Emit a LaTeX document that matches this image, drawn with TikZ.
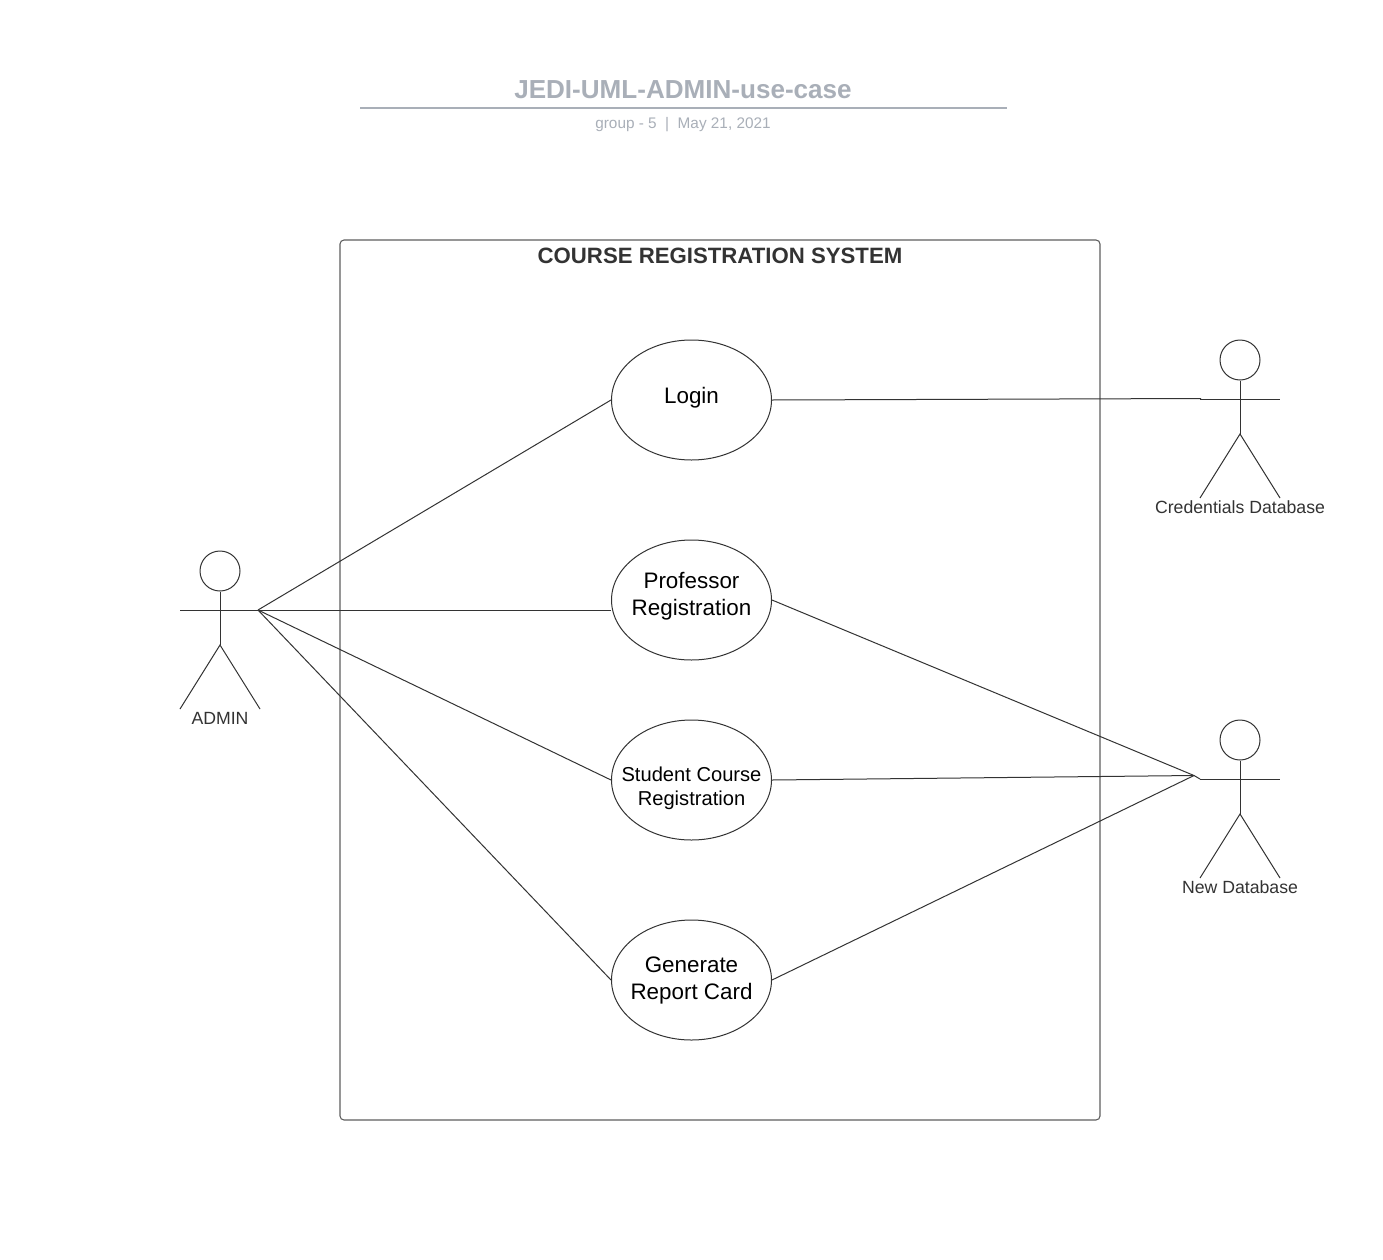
\documentclass[tikz,border=0pt]{standalone}
\usepackage{fontspec}
\setmainfont{Liberation Sans}
\usetikzlibrary{shapes.geometric}
\definecolor{linedark}{HTML}{333333}
\definecolor{boxgrey}{HTML}{5E5E5E}
\definecolor{titlegrey}{HTML}{A9AFB8}
\tikzset{
  usecase/.style={draw=linedark,fill=white,ellipse,line width=0.75pt,minimum width=120pt,minimum height=90pt,inner sep=0pt},
  casetext/.style={text=black,align=center,font=\fontsize{16.8}{20.25}\selectfont,inner sep=0pt},
  conn/.style={draw=linedark,line width=0.75pt},
  limb/.style={draw=linedark,line width=0.75pt},
  actorhead/.style={draw=linedark,circle,line width=0.75pt,minimum size=30pt,inner sep=0pt},
  actorlabel/.style={text=linedark,font=\fontsize{13.25}{16}\selectfont,inner sep=0pt},
}
% #1 name, #2 head x, #3 head y, #4 label
\newcommand{\umlactor}[4]{%
  \node[actorhead] (#1head) at (#2,#3) {};
  \coordinate (#1hip) at (#2,#3+74);
  \coordinate (#1larm) at (#2-40,#3+39);
  \coordinate (#1rarm) at (#2+40,#3+39);
  \coordinate (#1lleg) at (#2-40,#3+138);
  \coordinate (#1rleg) at (#2+40,#3+138);
  \draw[limb] (#1head.south) -- (#1hip);
  \draw[limb] (#1larm) -- (#1rarm);
  \draw[limb] (#1lleg) -- (#1hip) -- (#1rleg);
  \node[actorlabel] (#1label) at (#2,#3+147) {#4};
}
\begin{document}
\begin{tikzpicture}[x=0.75pt,y=-0.75pt]
\useasboundingbox[fill=white] (0,0) rectangle (1383,1259);
% title block
\node[text=titlegrey,font=\bfseries\fontsize{19.55}{24}\selectfont,inner sep=0pt] (title) at (683,89.6) {JEDI-UML-ADMIN-use-case};
\coordinate (ruleL) at (360,107.7);
\coordinate (ruleR) at (1007,107.7);
\draw[titlegrey,line width=1.5pt] (ruleL) -- (ruleR);
\node[text=titlegrey,font=\fontsize{11.5}{14}\selectfont,inner sep=0pt] (subtitle) at (683,124.5) {group - 5\ \ |\ \ May 21, 2021};
% system box
\node[draw=boxgrey,line width=0.8pt,rounded corners=3pt,minimum width=570pt,minimum height=660pt,inner sep=0pt] (system) at (720,680) {};
\node[text=linedark,font=\bfseries\fontsize{16.65}{20}\selectfont,inner sep=0pt] (systemtitle) at (720,255.5) {COURSE REGISTRATION SYSTEM};
% use cases
\node[usecase] (login) at (691.5,400) {};
\node[casetext] at (691.5,397.5) {Login};
\node[usecase] (prof) at (691.5,600) {};
\node[casetext] at (691.5,596) {Professor\\Registration};
\node[usecase] (student) at (691.5,780) {};
\node[casetext,font=\fontsize{15.1}{18}\selectfont] at (691.5,788) {Student Course\\Registration};
\node[usecase] (report) at (691.5,980) {};
\node[casetext] at (691.5,980.5) {Generate\\Report Card};
% actors
\umlactor{admin}{220}{571}{ADMIN}
\umlactor{cred}{1240}{360}{Credentials Database}
\umlactor{newdb}{1240}{740}{New Database}
% connector hubs
\coordinate (adminhub) at (258,610);
\coordinate (newhub) at (1194,775.5);
\coordinate (credhub) at (1201,398.5);
% connectors
\draw[conn] (adminhub) -- (login.west);
\draw[conn] (adminhub) -- (prof.west |- adminhub);
\draw[conn] (adminhub) -- (student.west);
\draw[conn] (adminhub) -- (report.west);
\draw[conn] (login.east) -- (credhub);
\draw[conn] (prof.east) -- (newhub);
\draw[conn] (student.east) -- (newhub);
\draw[conn] (report.east) -- (newhub);
\draw[conn] (newhub) -- (newdblarm);
\end{tikzpicture}
\end{document}
